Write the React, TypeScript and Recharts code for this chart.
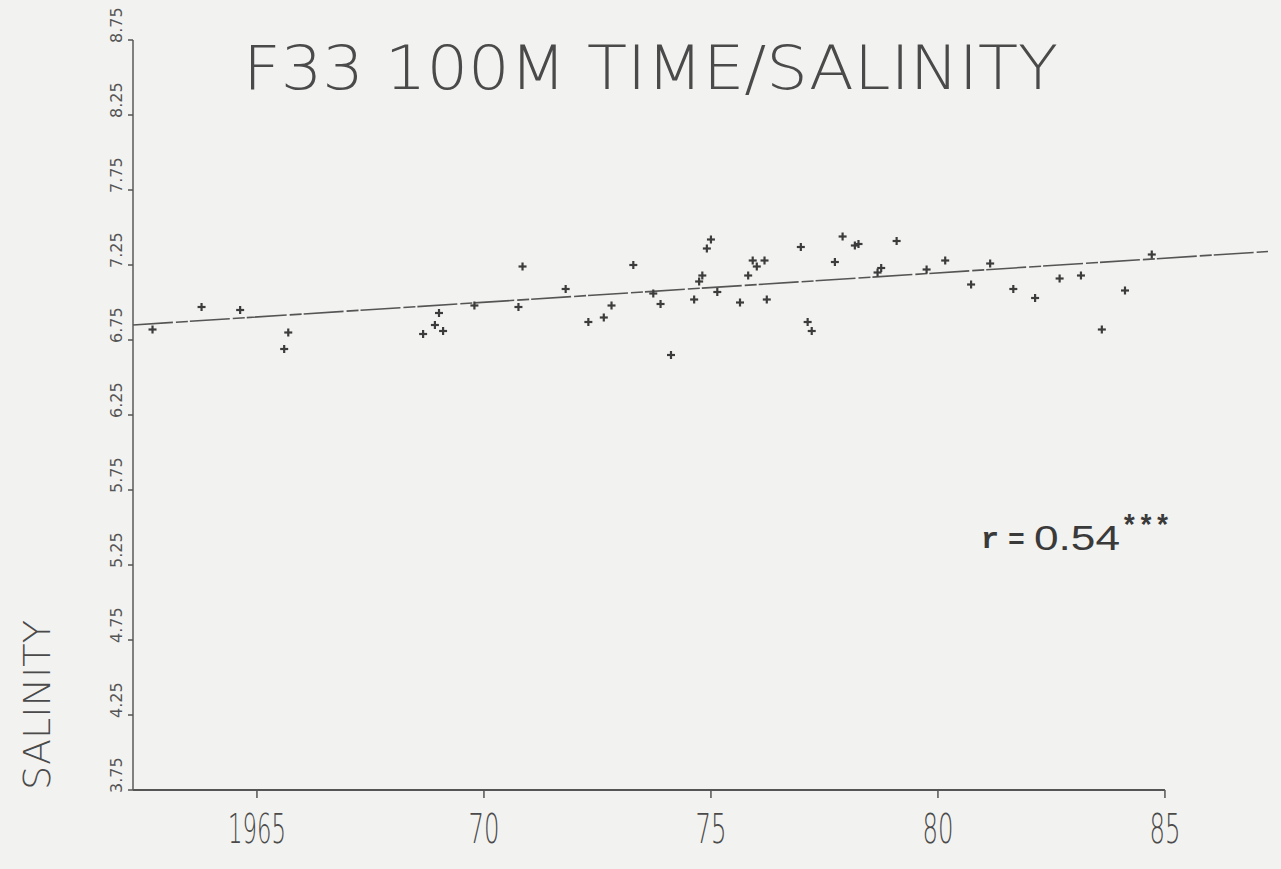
import React from 'react';
import { ComposedChart, Scatter, Line, XAxis, YAxis, ReferenceLine } from 'recharts';

const years = [
  1962.7, 1963.78, 1964.63, 1965.69, 1965.6, 1968.66, 1968.92, 1969.1, 1969.01, 1969.79,
  1970.76, 1970.85, 1971.8, 1972.3, 1972.64, 1972.81, 1973.29, 1973.73, 1973.89, 1974.12,
  1974.63, 1974.74, 1974.81, 1974.91, 1975.0, 1975.14, 1975.64, 1975.82, 1975.92, 1976.01,
  1976.18, 1976.23, 1976.98, 1977.13, 1977.22, 1977.73, 1977.9, 1978.17, 1978.25, 1978.67,
  1978.75, 1979.09, 1979.75, 1980.16, 1980.73, 1981.15, 1981.66, 1982.14, 1982.68, 1983.15,
  1983.61, 1984.12, 1984.71,
];

const salinity = [
  6.82, 6.97, 6.95, 6.8, 6.69, 6.79, 6.85, 6.81, 6.93, 6.98,
  6.97, 7.24, 7.09, 6.87, 6.9, 6.98, 7.25, 7.06, 6.99, 6.65,
  7.02, 7.14, 7.18, 7.36, 7.42, 7.07, 7.0, 7.18, 7.28, 7.24,
  7.28, 7.02, 7.37, 6.87, 6.81, 7.27, 7.44, 7.38, 7.39, 7.2,
  7.23, 7.41, 7.22, 7.28, 7.12, 7.26, 7.09, 7.03, 7.16, 7.18,
  6.82, 7.08, 7.32,
];

// regression line end points
const trendYears = [1962.27, 1987.27];
const trendSalinity = [6.85, 7.34];

const yTicks = [3.75, 4.25, 4.75, 5.25, 5.75, 6.25, 6.75, 7.25, 7.75, 8.25, 8.75];
const xTicks = [1965, 1970, 1975, 1980, 1985];
const xTickLabels = ['1965', '70', '75', '80', '85'];

const points = years.map((year, i) => ({ year, sal: salinity[i] }));
const trend = trendYears.map((year, i) => ({ year, sal: trendSalinity[i] }));

const ink = '#4a4a4a';

const Plus = (props: any) => {
  const { cx, cy } = props;
  if (cx == null || cy == null) return null;
  return (
    <g stroke="#3c3c3c" strokeWidth={2.2}>
      <line x1={cx - 4} y1={cy} x2={cx + 4} y2={cy} />
      <line x1={cx} y1={cy - 4} x2={cx} y2={cy + 4} />
    </g>
  );
};

const YTick = (props: any) => {
  const { x, y, payload } = props;
  const ty = y + 3;
  const tx = x - 4;
  return (
    <text
      x={tx}
      y={ty}
      transform={`rotate(-90, ${tx}, ${ty})`}
      textAnchor="start"
      fontSize={16}
      fontFamily="DejaVu Sans"
      fill="#555"
    >
      {payload.value.toFixed(2)}
    </text>
  );
};

const XTick = (props: any) => {
  const { x, y, payload } = props;
  const idx = xTicks.indexOf(payload.value);
  const label = xTickLabels[idx] ?? String(payload.value);
  const len = label.length === 4 ? 58 : 31;
  return (
    <text
      x={x - len / 2}
      y={y + 43}
      textLength={len}
      lengthAdjust="spacingAndGlyphs"
      fontSize={40}
      fontFamily="DejaVu Sans"
      fontWeight={200}
      fill={ink}
    >
      {label}
    </text>
  );
};

export default function App() {
  return (
    <div style={{ position: 'fixed', left: 0, top: 0, width: 1281, height: 869, background: '#f2f2f0' }}>
      <ComposedChart width={1281} height={869} margin={{ top: 40, right: 13, bottom: 39, left: 93 }}>
        <XAxis
          type="number"
          dataKey="year"
          domain={[1962.27, 1987.27]}
          ticks={xTicks}
          axisLine={false}
          tickLine={{ stroke: '#555', strokeWidth: 1.5 }}
          tickSize={8}
          tick={<XTick />}
          height={40}
          allowDataOverflow
        />
        <YAxis
          type="number"
          dataKey="sal"
          domain={[3.75, 8.75]}
          ticks={yTicks}
          axisLine={{ stroke: '#5a5a5a', strokeWidth: 1.5 }}
          tickLine={{ stroke: '#555', strokeWidth: 1.5 }}
          tickSize={5}
          tick={<YTick />}
          width={40}
          allowDataOverflow
        />
        <ReferenceLine
          segment={[
            { x: 1962.27, y: 3.75 },
            { x: 1985, y: 3.75 },
          ]}
          stroke="#555"
          strokeWidth={2}
        />
        <Line
          data={trend}
          dataKey="sal"
          stroke="#555"
          strokeWidth={1.6}
          strokeDasharray="40 3 12 2"
          dot={false}
          isAnimationActive={false}
        />
        <Scatter data={points} dataKey="sal" shape={<Plus />} isAnimationActive={false} />
      </ComposedChart>
      <svg width={1281} height={869} style={{ position: 'absolute', left: 0, top: 0, pointerEvents: 'none' }}>
        <text
          x={243}
          y={89}
          textLength={815}
          lengthAdjust="spacingAndGlyphs"
          fontSize={60}
          fontFamily="DejaVu Sans"
          fontWeight={200}
          fill={ink}
        >
          F33 100M TIME/SALINITY
        </text>
        <text
          x={50}
          y={790}
          transform="rotate(-90, 50, 790)"
          textLength={170}
          lengthAdjust="spacingAndGlyphs"
          fontSize={38}
          fontFamily="DejaVu Sans"
          fontWeight={200}
          fill={ink}
        >
          SALINITY
        </text>
        <text x={981} y={548} fontSize={30} fontFamily="Liberation Mono" fontWeight="bold" fill="#3a3a3a">
          r
        </text>
        <text x={1008} y={548} fontSize={28} fontFamily="Liberation Mono" fontWeight="bold" fill="#3a3a3a">
          =
        </text>
        <text
          x={1034}
          y={550}
          textLength={86}
          lengthAdjust="spacingAndGlyphs"
          fontSize={35}
          fontFamily="Liberation Sans"
          fill="#3a3a3a"
        >
          0.54
        </text>
        <text
          x={1121}
          y={536}
          textLength={50}
          lengthAdjust="spacingAndGlyphs"
          fontSize={30}
          fontFamily="Liberation Mono"
          fontWeight="bold"
          fill="#3a3a3a"
        >
          ***
        </text>
      </svg>
    </div>
  );
}
